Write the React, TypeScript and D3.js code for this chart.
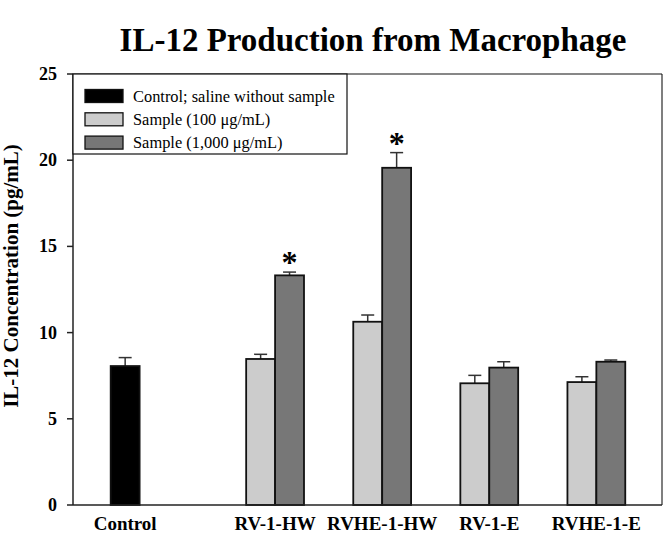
import React from "react";
import * as d3 from "d3";

const categories = ["Control", "RV-1-HW", "RVHE-1-HW", "RV-1-E", "RVHE-1-E"];
const groupPositions = [0, 1.4, 2.4, 3.4, 4.4];
const controlMean = [8.06, null, null, null, null];
const controlErr = [0.49, null, null, null, null];
const sample100 = [null, 8.47, 10.63, 7.06, 7.13];
const sample100Err = [null, 0.27, 0.39, 0.46, 0.31];
const sample1000 = [null, 13.32, 19.56, 7.97, 8.31];
const sample1000Err = [null, 0.19, 0.88, 0.34, 0.1];
const significance = ["", "*", "*", "", ""];
const yTicks = [0, 5, 10, 15, 20, 25];
const legendLabels = [
  "Control; saline without sample",
  "Sample (100 \u03bcg/mL)",
  "Sample (1,000 \u03bcg/mL)",
];
const colors = ["#000000", "#cccccc", "#777777"];

const W = 666;
const H = 534;
const left = 73;
const right = 662;
const top = 74;
const bottom = 505;
const FONT = "'Liberation Serif', 'Times New Roman', serif";

export default function App() {
  const x = d3.scaleLinear().domain([-0.487, 5.013]).range([left, right]);
  const y = d3.scaleLinear().domain([0, 25]).range([bottom, top]);
  const bw = x(0.27) - x(0);
  const capHalf = 6.5;

  type Bar = { x0: number; v: number; e: number; fill: string; star?: string };
  const bars: Bar[] = [];
  categories.forEach((c, i) => {
    const cx = x(groupPositions[i]);
    if (controlMean[i] != null) {
      bars.push({ x0: cx - bw / 2, v: controlMean[i] as number, e: controlErr[i] as number, fill: colors[0] });
    }
    if (sample100[i] != null) {
      bars.push({ x0: cx - bw, v: sample100[i] as number, e: sample100Err[i] as number, fill: colors[1] });
    }
    if (sample1000[i] != null) {
      bars.push({ x0: cx, v: sample1000[i] as number, e: sample1000Err[i] as number, fill: colors[2], star: significance[i] });
    }
  });

  return (
    <svg width={W} height={H} style={{ position: "absolute", left: 0, top: 0, background: "#fff" }} fontFamily={FONT}>
      <rect x={0} y={0} width={W} height={H} fill="#fff" />
      <text x={373} y={51} textAnchor="middle" fontSize={33} fontWeight="bold" fill="#000">
        IL-12 Production from Macrophage
      </text>

      {/* error bars */}
      {bars.map((b, i) => {
        const cx = b.x0 + bw / 2;
        return (
          <g key={"e" + i} stroke="#333" strokeWidth={1.5}>
            <line x1={cx} x2={cx} y1={y(b.v)} y2={y(b.v + b.e)} />
            <line x1={cx - capHalf} x2={cx + capHalf} y1={y(b.v + b.e)} y2={y(b.v + b.e)} />
          </g>
        );
      })}
      {/* bars */}
      {bars.map((b, i) => (
        <rect key={"b" + i} x={b.x0} y={y(b.v)} width={bw} height={y(0) - y(b.v)} fill={b.fill} stroke="#111" strokeWidth={1.8} />
      ))}
      {bars.filter((b) => b.star).map((b, i) => (
        <text key={"s" + i} x={b.x0 + bw / 2} y={y(b.v + b.e) + 1} textAnchor="middle" fontSize={32} fontWeight="bold" fill="#000">
          {b.star}
        </text>
      ))}

      {/* frame */}
      <line x1={right} x2={right} y1={top} y2={bottom} stroke="#555" strokeWidth={1.5} />
      <line x1={left} x2={right} y1={top} y2={top} stroke="#111" strokeWidth={1.2} />
      <line x1={left} x2={right} y1={bottom} y2={bottom} stroke="#222" strokeWidth={1.5} />
      <line x1={left} x2={left} y1={top} y2={bottom} stroke="#222" strokeWidth={1.5} />

      {/* y axis */}
      {yTicks.map((t) => (
        <g key={"t" + t}>
          <line x1={left - 6} x2={left} y1={y(t)} y2={y(t)} stroke="#222" strokeWidth={1.5} />
          <text x={57} y={y(t) + 6} textAnchor="end" fontSize={18} fontWeight="bold" fill="#000">
            {t}
          </text>
        </g>
      ))}
      <text transform={`translate(18,276) rotate(-90)`} textAnchor="middle" fontSize={21} fontWeight="bold" fill="#000">
        IL-12 Concentration (pg/mL)
      </text>

      {/* x labels */}
      {categories.map((c, i) => (
        <text key={"x" + c} x={x(groupPositions[i])} y={530} textAnchor="middle" fontSize={19} fontWeight="bold" fill="#000">
          {c}
        </text>
      ))}

      {/* legend */}
      <rect x={left} y={top} width={347 - left} height={154 - top} fill="#fff" stroke="#111" strokeWidth={1.2} />
      {legendLabels.map((l, i) => (
        <g key={"l" + i}>
          <rect x={85} y={89.5 + i * 23.3} width={38} height={13} fill={colors[i]} stroke="#111" strokeWidth={1.3} />
          <text x={133} y={101.5 + i * 23.3} fontSize={16.4} fill="#000">
            {l}
          </text>
        </g>
      ))}
    </svg>
  );
}
